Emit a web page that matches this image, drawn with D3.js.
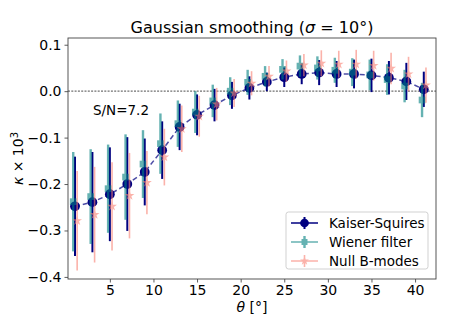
<!DOCTYPE html>
<html>
<head>
<meta charset="utf-8">
<script src="https://cdn.jsdelivr.net/npm/d3@7"></script>
<style>
  body { margin: 0; background: #fff; }
  text { font-family: "DejaVu Sans", sans-serif; fill: #000; }
</style>
</head>
<body>
<div id="vis"></div>
<script>
const FRAME_WIDTH = 458;
const FRAME_HEIGHT = 321;
const MARGINS = {left: 68, right: 22, top: 38, bottom: 42};

// data (kappa x 10^3 vs theta)
const theta = [1, 3, 5, 7, 9, 11, 13, 15, 17, 19, 21, 23, 25, 27, 29, 31, 33, 35, 37, 39, 41];

const ks = [-0.248, -0.239, -0.222, -0.200, -0.174, -0.127, -0.077, -0.051, -0.030, -0.009, 0.007,
            0.020, 0.030, 0.037, 0.040, 0.037, 0.037, 0.034, 0.029, 0.021, 0.004];
const ksErr = [0.107, 0.108, 0.101, 0.101, 0.072, 0.062, 0.050, 0.044, 0.035, 0.029, 0.025,
               0.020, 0.021, 0.022, 0.027, 0.028, 0.031, 0.036, 0.036, 0.040, 0.038];

const wf = [-0.238, -0.227, -0.210, -0.185, -0.157, -0.113, -0.070, -0.045, -0.021, 0.000, 0.019,
            0.032, 0.047, 0.054, 0.050, 0.045, 0.041, 0.035, 0.025, 0.011, -0.019];
const wfErr = [0.107, 0.102, 0.095, 0.092, 0.073, 0.065, 0.050, 0.045, 0.035, 0.030, 0.027,
               0.022, 0.022, 0.023, 0.025, 0.027, 0.030, 0.033, 0.033, 0.035, 0.037];

const nb = [-0.279, -0.266, -0.248, -0.225, -0.197, -0.142, -0.081, -0.054, -0.028, -0.004, 0.017,
            0.032, 0.043, 0.056, 0.060, 0.058, 0.058, 0.055, 0.049, 0.037, 0.013];
const nbErr = [0.107, 0.103, 0.095, 0.092, 0.068, 0.061, 0.050, 0.044, 0.035, 0.030, 0.026,
               0.022, 0.023, 0.024, 0.028, 0.029, 0.031, 0.032, 0.034, 0.037, 0.038];

const xTicks = [5, 10, 15, 20, 25, 30, 35, 40];
const yTicks = [0.1, 0.0, -0.1, -0.2, -0.3, -0.4];
const seriesNames = ["Kaiser-Squires", "Wiener filter", "Null B-modes"];

const VIS_WIDTH = FRAME_WIDTH - MARGINS.left - MARGINS.right;
const VIS_HEIGHT = FRAME_HEIGHT - MARGINS.top - MARGINS.bottom;

const svg = d3.select("#vis")
  .append("svg")
    .attr("width", FRAME_WIDTH)
    .attr("height", FRAME_HEIGHT);

const X_SCALE = d3.scaleLinear().domain([0.2, 42.4]).range([0, VIS_WIDTH]);
const Y_SCALE = d3.scaleLinear().domain([-0.4045, 0.1145]).range([VIS_HEIGHT, 0]);

const plot = svg.append("g")
  .attr("transform", "translate(" + MARGINS.left + "," + MARGINS.top + ")");

// zero line
plot.append("line")
  .attr("x1", 0).attr("x2", VIS_WIDTH)
  .attr("y1", Y_SCALE(0)).attr("y2", Y_SCALE(0))
  .attr("stroke", "#707070")
  .attr("stroke-width", 1.3)
  .attr("stroke-dasharray", "2,1.3");

// series styles
const series = [
  {name: seriesNames[0], y: ks, err: ksErr, dx: 0, color: "#000080", opacity: 1, bw: 2, sym: d3.symbolCircle, size: 75},
  {name: seriesNames[1], y: wf, err: wfErr, dx: -0.2, color: "#008080", opacity: 0.6, bw: 2.4, sym: d3.symbolSquare, size: 45},
  {name: seriesNames[2], y: nb, err: nbErr, dx: 0.25, color: "#fa8072", opacity: 0.6, bw: 1.6, sym: d3.symbolStar, size: 30}
];

// dashed line through KS points
plot.append("path")
  .datum(theta)
  .attr("fill", "none")
  .attr("stroke", "#000080")
  .attr("stroke-opacity", 0.7)
  .attr("stroke-width", 1.5)
  .attr("stroke-dasharray", "5,3")
  .attr("d", d3.line()
    .x((d) => X_SCALE(d))
    .y((d, i) => Y_SCALE(ks[i])));

series.forEach((s) => {
  const g = plot.append("g").attr("opacity", s.opacity);
  g.selectAll("line")
    .data(theta)
    .enter()
    .append("line")
      .attr("x1", (d) => X_SCALE(d + s.dx))
      .attr("x2", (d) => X_SCALE(d + s.dx))
      .attr("y1", (d, i) => Y_SCALE(s.y[i] - s.err[i]))
      .attr("y2", (d, i) => Y_SCALE(s.y[i] + s.err[i]))
      .attr("stroke", s.color)
      .attr("stroke-width", s.bw);
  g.selectAll("path")
    .data(theta)
    .enter()
    .append("path")
      .attr("transform", (d, i) => "translate(" + X_SCALE(d + s.dx) + "," + Y_SCALE(s.y[i]) + ")")
      .attr("d", d3.symbol().type(s.sym).size(s.size))
      .attr("fill", s.color);
});

// axes
const xAxis = plot.append("g")
  .attr("transform", "translate(0," + VIS_HEIGHT + ")")
  .call(d3.axisBottom(X_SCALE).tickValues(xTicks).tickSize(3.5).tickPadding(3).tickFormat(d3.format("d")));
const yAxis = plot.append("g")
  .call(d3.axisLeft(Y_SCALE).tickValues(yTicks).tickSize(3.5).tickPadding(3)
    .tickFormat((d) => d3.format(".1f")(d).replace("-", "\u2212")));

[xAxis, yAxis].forEach((a) => {
  a.selectAll(".domain").remove();
  a.selectAll("line").attr("stroke", "#333").attr("stroke-width", 0.8);
  a.selectAll("text").attr("font-size", "14px").attr("font-family", "DejaVu Sans").attr("fill", "#000");
});

// frame
plot.append("rect")
  .attr("width", VIS_WIDTH).attr("height", VIS_HEIGHT)
  .attr("fill", "none")
  .attr("stroke", "#444")
  .attr("stroke-width", 0.9);

// texts
svg.append("text")
  .attr("x", MARGINS.left + VIS_WIDTH / 2)
  .attr("y", 33)
  .attr("text-anchor", "middle")
  .attr("font-size", "16px")
  .html("Gaussian smoothing (<tspan font-style='italic'>σ</tspan> = 10°)");

svg.append("text")
  .attr("x", MARGINS.left + VIS_WIDTH / 2)
  .attr("y", 312)
  .attr("text-anchor", "middle")
  .attr("font-size", "14px")
  .html("<tspan font-style='italic'>θ</tspan> [°]");

svg.append("text")
  .attr("transform", "translate(23," + (MARGINS.top + VIS_HEIGHT / 2) + ") rotate(-90)")
  .attr("text-anchor", "middle")
  .attr("font-size", "14px")
  .html("<tspan font-style='italic'>κ</tspan> × 10<tspan dy='-5' font-size='10px'>3</tspan>");

svg.append("text")
  .attr("x", 93)
  .attr("y", 115)
  .attr("font-size", "13.5px")
  .text("S/N=7.2");

// legend
const legend = svg.append("g").attr("transform", "translate(286,212)");
legend.append("rect")
  .attr("width", 142).attr("height", 57)
  .attr("rx", 2.5)
  .attr("fill", "#fff").attr("fill-opacity", 0.8)
  .attr("stroke", "#ccc").attr("stroke-width", 0.9);

series.forEach((s, i) => {
  const row = legend.append("g")
    .attr("transform", "translate(0," + (11 + i * 19) + ")")
    .attr("opacity", s.opacity);
  row.append("line")
    .attr("x1", 5).attr("x2", 32).attr("y1", 0).attr("y2", 0)
    .attr("stroke", s.color).attr("stroke-width", 1.5);
  row.append("line")
    .attr("x1", 18.5).attr("x2", 18.5).attr("y1", -6).attr("y2", 6)
    .attr("stroke", s.color).attr("stroke-width", s.bw);
  row.append("path")
    .attr("transform", "translate(18.5,0)")
    .attr("d", d3.symbol().type(s.sym).size(s.size * 0.8))
    .attr("fill", s.color);
  legend.append("text")
    .attr("x", 43)
    .attr("y", 11 + i * 19 + 5)
    .attr("font-size", "13.5px")
    .text(s.name);
});
</script>
</body>
</html>
